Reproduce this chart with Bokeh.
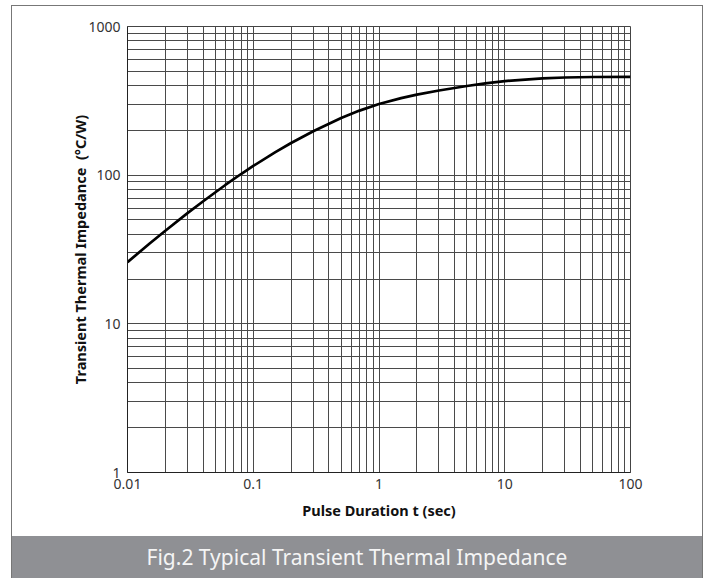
from bokeh.plotting import figure
from bokeh.models import Range1d, FixedTicker, Div
from bokeh.layouts import column
from bokeh.embed import file_html
from bokeh.resources import INLINE

# data
t_sec = [0.01, 0.015, 0.02, 0.03, 0.04, 0.06, 0.08, 0.1, 0.15, 0.2, 0.3, 0.5, 0.7,
         1, 1.5, 2, 3, 5, 7, 10, 20, 30, 50, 100]
z_th = [26.0, 34.7, 42.3, 55.5, 66.8, 85.9, 101.8, 115.3, 143, 164.6, 197.6, 242.4, 271.8,
        301.4, 329.6, 348, 371.3, 397.9, 414.3, 429.4, 447.7, 453.9, 457.4, 458.7]

x_ticks = [0.01, 0.1, 1, 10, 100]
x_labels = ["0.01", "0.1", "1", "10", "100"]
y_ticks = [1, 10, 100, 1000]
y_labels = ["1", "10", "100", "1000"]

x_minor = [m * 10.0 ** e for e in range(-2, 2) for m in range(2, 10)]
y_minor = [m * 10.0 ** e for e in range(0, 3) for m in range(2, 10)]

FONT = "Noto Sans"

p = figure(width=690, height=530, x_axis_type="log", y_axis_type="log",
           x_range=Range1d(0.01, 100), y_range=Range1d(1, 1000),
           output_backend="svg", toolbar_location=None,
           min_border_left=115, min_border_right=72, min_border_top=20,
           min_border_bottom=64)
p.background_fill_color = "white"
p.border_fill_color = "white"
p.outline_line_color = "#444444"

p.xaxis.ticker = FixedTicker(ticks=x_ticks, minor_ticks=x_minor)
p.yaxis.ticker = FixedTicker(ticks=y_ticks, minor_ticks=y_minor)
p.xaxis.major_label_overrides = {k: v for k, v in zip(x_ticks, x_labels)}
p.yaxis.major_label_overrides = {k: v for k, v in zip(y_ticks, y_labels)}

for ax in (p.xaxis, p.yaxis):
    ax.major_tick_line_color = None
    ax.minor_tick_line_color = None
    ax.axis_line_color = "#222222"
    ax.major_label_text_font = FONT
    ax.major_label_text_font_size = "14px"
    ax.major_label_text_color = "#333333"
    ax.axis_label_text_font = FONT
    ax.axis_label_text_font_style = "bold"
    ax.axis_label_text_color = "#111111"

p.xaxis.axis_label_text_font_size = "14.5px"
p.yaxis.axis_label_text_font_size = "14.5px"
p.xaxis.axis_label = "Pulse Duration t (sec)"
p.yaxis.axis_label = "Transient Thermal Impedance \u00a0(°C/W)"
p.xaxis.major_label_standoff = 0
p.yaxis.major_label_standoff = 1
p.xaxis.axis_label_standoff = 8
p.yaxis.axis_label_standoff = -5

for g in (p.xgrid, p.ygrid):
    g.grid_line_color = "#4a4a4a"
    g.grid_line_width = 1
    g.minor_grid_line_color = "#4a4a4a"
    g.minor_grid_line_width = 1

p.line(t_sec, z_th, line_color="black", line_width=2.7)

caption = Div(text="Fig.2 Typical Transient Thermal Impedance", width=690, height=42,
              margin=0,
              styles={"background-color": "#8f9094", "color": "#f5f5f5",
                      "font-family": "Noto Sans", "font-size": "21px",
                      "text-align": "center", "line-height": "42px"})

layout = column(p, caption, spacing=0,
                styles={"margin-left": "11px", "margin-top": "5px",
                        "margin-bottom": "-8px",
                        "border-left": "1px solid #777", "border-right": "1px solid #777",
                        "border-top": "1px solid #777"})

open("out.html", "w").write(file_html(layout, INLINE))
